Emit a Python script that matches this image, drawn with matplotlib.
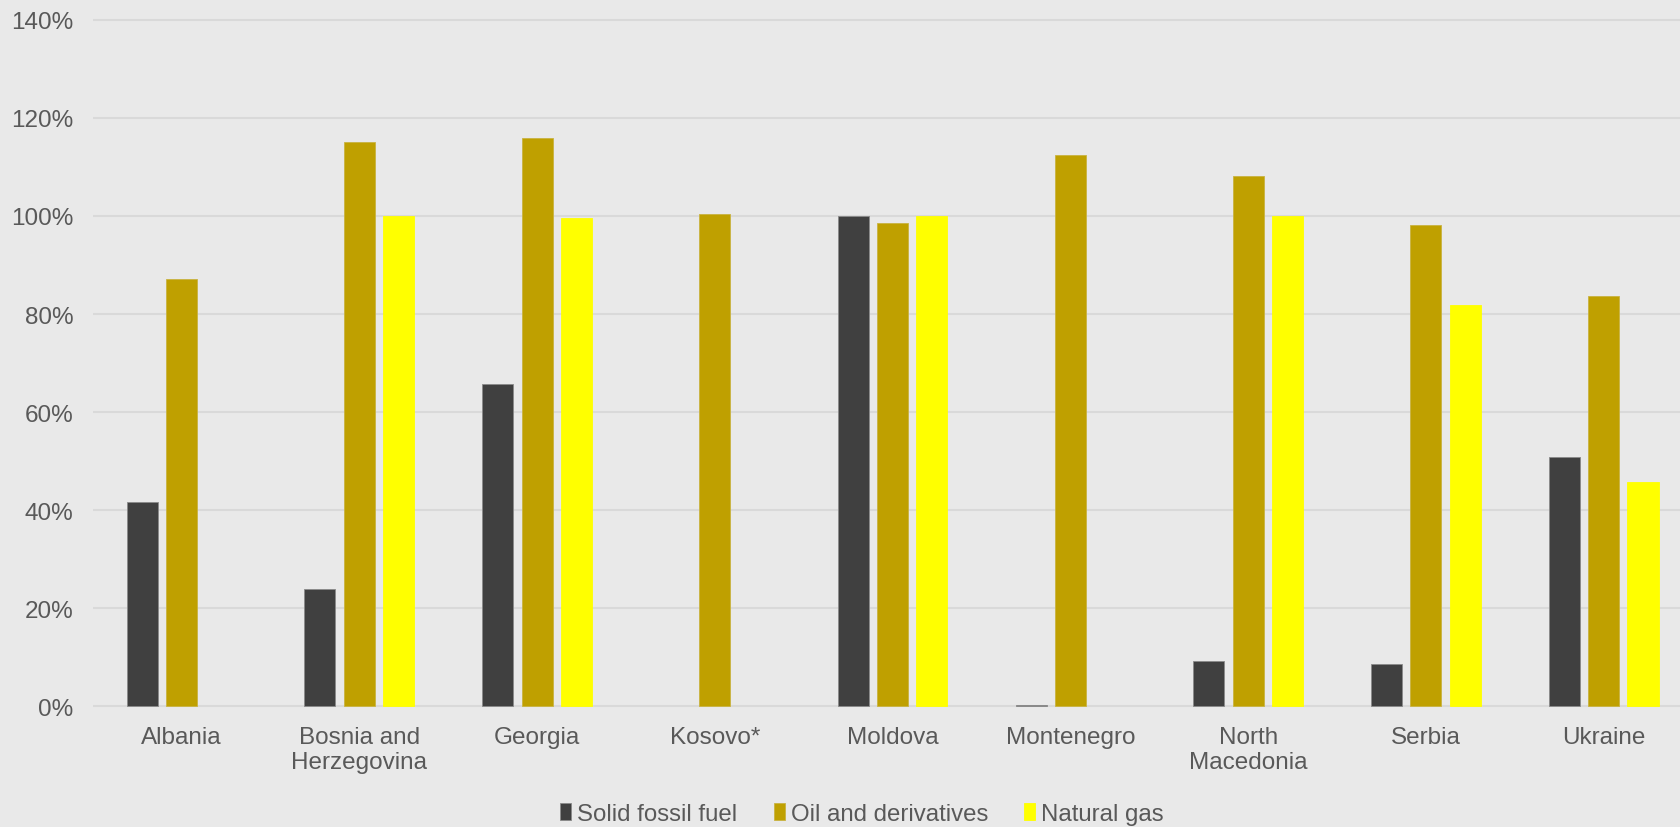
import numpy as np
import matplotlib
matplotlib.use("Agg")
from matplotlib import pyplot as plt
from matplotlib.ticker import FuncFormatter

plt.rcParams['font.family'] = ['Liberation Sans', 'DejaVu Sans']

countries = ["Albania", "Bosnia and\nHerzegovina", "Georgia", "Kosovo*", "Moldova",
             "Montenegro", "North\nMacedonia", "Serbia", "Ukraine"]

# import dependency, % of supply (None = no bar)
solid_fossil = [41.6, 24.0, 65.8, None, 100.0, 0.3, 9.2, 8.6, 50.8]
oil_derivs = [87.1, 115.0, 115.9, 100.3, 98.5, 112.4, 108.1, 98.1, 83.6]
natural_gas = [None, 100.0, 99.6, None, 100.0, None, 100.0, 81.9, 45.8]

series_names = ["Solid fossil fuel", "Oil and derivatives", "Natural gas"]
colours = ["#404040", "#BFA000", "#FFFF00"]
edges = ["#8a8a8a", "#c9b340", "#FFFF00"]

bg = "#E9E9E9"
text_col = "#595959"

fig = plt.figure(figsize=(16.8, 8.28), dpi=100, facecolor=bg)
ax = fig.add_axes([92.6 / 1680, 0.14336, 1600 / 1680, 0.83389])
ax.set_facecolor(bg)

x = np.arange(len(countries))
step = 0.221
width = 0.1745

for k, (vals, name) in enumerate(zip([solid_fossil, oil_derivs, natural_gas], series_names)):
    # countries without a value get no bar at all
    xs = [x[i] + (k - 1) * step for i, v in enumerate(vals) if v is not None]
    hs = [v for v in vals if v is not None]
    ax.bar(xs, hs, width=width, color=colours[k],
           edgecolor=edges[k], linewidth=0.6, label=name, zorder=3)

ax.set_xlim(-0.5, len(countries) - 0.5)
ax.set_ylim(-0.4, 140.4)
ax.set_yticks(np.arange(0, 141, 20))
ax.yaxis.set_major_formatter(FuncFormatter(lambda v, p: "%d%%" % v))
ax.grid(axis="y", color="#D9D9D9", linewidth=1.5, zorder=0)
ax.set_axisbelow(True)

ax.set_xticks(x)
ax.set_xticklabels(countries, fontsize=17.5, color=text_col, linespacing=1.15)
ax.tick_params(axis="x", length=0, pad=13)
ax.tick_params(axis="y", length=0, pad=14, labelsize=17.5, labelcolor=text_col)

for s in ax.spines.values():
    s.set_visible(False)

leg = fig.legend(loc="center", bbox_to_anchor=(862 / 1680, 13 / 828),
                 bbox_transform=fig.transFigure, ncol=3, frameon=False,
                 fontsize=17.3, handlelength=0.46, handleheight=0.7, handletextpad=0.25,
                 columnspacing=1.5, borderaxespad=0, borderpad=0)
for t in leg.get_texts():
    t.set_color(text_col)

fig.savefig("out.png", dpi=100, facecolor=bg)
